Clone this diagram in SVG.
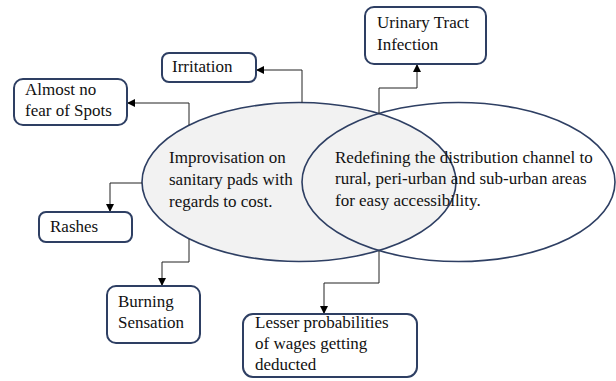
<svg xmlns="http://www.w3.org/2000/svg" width="616" height="381" viewBox="0 0 616 381">
<defs>
<marker id="ah" viewBox="0 0 10 10" refX="10" refY="5" markerWidth="8" markerHeight="8" markerUnits="userSpaceOnUse" orient="auto">
<path d="M0,0 L10,5 L0,10 Z" fill="#000"/>
</marker>
<style>
.box{fill:#fff;stroke:#2e3f63;stroke-width:2}
.ell{stroke:#2e3f63;stroke-width:1.6}
.t{font-family:"Liberation Serif","Times New Roman",serif;font-size:17px;fill:#111}
.et{font-family:"Liberation Serif","Times New Roman",serif;font-size:17px;fill:#111}
.c{fill:none;stroke:#222;stroke-width:1;marker-end:url(#ah)}
</style>
</defs>
<rect width="616" height="381" fill="#fff"/>
<g id="ellipse-left">
<ellipse class="ell" cx="299" cy="182" rx="157" ry="79.5" fill="#f2f2f2"/>
<text class="et" x="169" y="163">Improvisation on</text>
<text class="et" x="169" y="185">sanitary pads with</text>
<text class="et" x="169" y="207">regards to cost.</text>
</g>
<g id="ellipse-right">
<ellipse class="ell" cx="458.5" cy="182" rx="156.5" ry="79.5" fill="none"/>
<text class="et" x="335" y="163">Redefining the distribution channel to</text>
<text class="et" x="335" y="184">rural, peri-urban and sub-urban areas</text>
<text class="et" x="335" y="206">for easy accessibility.</text>
</g>
<g id="connectors">
<path class="c" d="M379,114 V88 H417 V64"/>
<path class="c" d="M302,102.5 V70 H256"/>
<path class="c" d="M189,125 V103 H127"/>
<path class="c" d="M142,183 H110 V212"/>
<path class="c" d="M189,239 V262 H162 V286"/>
<path class="c" d="M379,251 V283 H324 V314"/>
</g>
<g id="uti">
<rect class="box" x="365" y="7" width="121" height="57" rx="9"/>
<text class="t" x="377" y="28">Urinary Tract</text>
<text class="t" x="377" y="50">Infection</text>
</g>
<g id="irritation">
<rect class="box" x="162" y="53" width="94" height="29" rx="7"/>
<text class="t" x="172" y="72">Irritation</text>
</g>
<g id="spots">
<rect class="box" x="14" y="79" width="113" height="46" rx="9"/>
<text class="t" x="25" y="95">Almost no</text>
<text class="t" x="25" y="116">fear of Spots</text>
</g>
<g id="rashes">
<rect class="box" x="39" y="212" width="93" height="30" rx="7"/>
<text class="t" x="50" y="232">Rashes</text>
</g>
<g id="burning">
<rect class="box" x="107" y="286" width="93" height="57" rx="9"/>
<text class="t" x="118" y="307">Burning</text>
<text class="t" x="118" y="328">Sensation</text>
</g>
<g id="wages">
<rect class="box" x="243" y="314" width="174" height="63" rx="10"/>
<text class="t" x="255" y="328">Lesser probabilities</text>
<text class="t" x="255" y="349">of wages getting</text>
<text class="t" x="255" y="370">deducted</text>
</g>
</svg>
